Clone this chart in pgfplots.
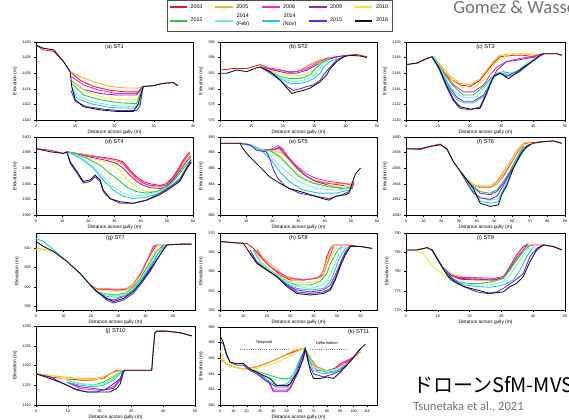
\documentclass[border=0pt]{standalone}
\usepackage{pgfplots}
\pgfplotsset{compat=1.18}
\usepackage{fontspec}
\setmainfont{Liberation Sans}
\newfontfamily\slidefont{Carlito}
\newfontfamily\jpfont{Noto Sans CJK JP}
\definecolor{c03}{RGB}{230,25,35}
\definecolor{c05}{RGB}{255,170,40}
\definecolor{c08}{RGB}{240,40,210}
\definecolor{c09}{RGB}{140,40,190}
\definecolor{c10}{RGB}{235,235,50}
\definecolor{c12}{RGB}{40,200,70}
\definecolor{c14f}{RGB}{120,240,205}
\definecolor{c14n}{RGB}{40,190,240}
\definecolor{c15}{RGB}{90,40,230}
\definecolor{c16}{RGB}{20,20,20}
\pgfplotsset{panel/.style={
  scale only axis, anchor=south west, width=117.75pt, height=58.5pt,
  enlargelimits=false, axis line style={line width=0.4pt},
  tick style={line width=0.3pt, black}, major tick length=1.2pt, tick align=outside,
  xtick pos=left, ytick pos=left,
  tick label style={font=\fontsize{2.8}{3}\selectfont},
  /pgf/number format/assume math mode=true, /pgf/number format/1000 sep={},
  xticklabel style={yshift=0.8pt}, yticklabel style={xshift=0.8pt},
  xlabel={Distance across gully (m)}, ylabel={Elevation (m)},
  label style={font=\fontsize{3.6}{4}\selectfont},
  xlabel style={yshift=5.5pt}, ylabel style={yshift=-3pt},
  title style={at={(0.5,1)}, anchor=north, yshift=-4.5pt, font=\fontsize{4.2}{5}\selectfont},
  every axis plot/.append style={line width=0.65pt, no markers},
}}
\begin{document}
\begin{tikzpicture}
\clip (0,0) rectangle (426.75pt,314.25pt);
\fill[white] (0,0) rectangle (426.75pt,314.25pt);
% legend
\begin{axis}[at={(125.25pt,290.25pt)}, anchor=south west, hide axis, scale only axis,
  width=10pt, height=10pt, xmin=0, xmax=1, ymin=0, ymax=1,
  legend style={at={(0,0)}, anchor=south west, legend columns=5, draw=black!70, line width=0.4pt,
    font=\fontsize{4}{4.2}\selectfont, inner sep=1pt, row sep=-1pt,
    /tikz/every even column/.append style={column sep=7pt}},
  legend cell align=left,
  legend image code/.code={\draw[#1, line width=1.5pt] (0pt,0pt) -- (13pt,0pt);}]
\addlegendimage{c03}\addlegendentry{2003}
\addlegendimage{c05}\addlegendentry{2005}
\addlegendimage{c08}\addlegendentry{2008}
\addlegendimage{c09}\addlegendentry{2009}
\addlegendimage{c10}\addlegendentry{2010}
\addlegendimage{c12}\addlegendentry{2012}
\addlegendimage{c14f}\addlegendentry{\shortstack{2014\\(Feb)}}
\addlegendimage{c14n}\addlegendentry{\shortstack{2014\\(Nov)}}
\addlegendimage{c15}\addlegendentry{2015}
\addlegendimage{c16}\addlegendentry{2016}
\end{axis}
% (a)
\begin{axis}[panel, at={(27pt,224.25pt)}, xmin=0, xmax=40, ymin=1420, ymax=1430,
  xtick={0,10,...,40}, ytick={1420,1422,...,1430}, title={(a) ST1}]
\addplot[c03] coordinates {(0,1429.6)(1.9,1429.0)(4.5,1428.8)(7.0,1427.5)(8.7,1426.2)(11.2,1425.1)(14.6,1424.3)(18.9,1423.8)(23.1,1423.6)(26.0,1423.6)(27.3,1424.3)(29.9,1424.4)(32.4,1424.7)(34.9,1424.8)(36.2,1424.4)};
\addplot[c05] coordinates {(8.7,1426.2)(11.2,1425.6)(14.6,1424.9)(18.9,1424.3)(23.1,1424.1)(26.0,1424.1)(27.3,1424.3)};
\addplot[c08] coordinates {(8.9,1425.6)(12.1,1424.5)(16.3,1423.8)(20.5,1423.4)(25.6,1423.4)(27.3,1424.3)};
\addplot[c09] coordinates {(8.9,1425.1)(12.1,1423.9)(16.3,1423.4)(20.5,1423.2)(25.6,1423.2)(27.3,1424.3)};
\addplot[c10] coordinates {(9.1,1425.1)(12.9,1423.6)(16.3,1423.0)(21.4,1422.6)(25.6,1422.6)(27.3,1424.3)};
\addplot[c12] coordinates {(9.1,1424.7)(12.1,1423.2)(16.3,1422.6)(21.4,1422.2)(25.6,1422.1)(27.3,1424.3)};
\addplot[c14f] coordinates {(9.1,1424.3)(10.4,1423.2)(13.8,1422.4)(18.9,1421.9)(24.8,1421.7)(26.5,1422.2)(27.3,1424.3)};
\addplot[c14n] coordinates {(9.1,1424.1)(10.4,1422.8)(13.8,1422.1)(18.9,1421.6)(24.8,1421.5)(26.5,1422.0)(27.3,1424.3)};
\addplot[c15] coordinates {(8.9,1423.8)(10.0,1422.4)(12.9,1421.7)(17.2,1421.4)(21.4,1421.2)(25.6,1421.2)(26.5,1421.8)(27.3,1424.3)};
\addplot[c16] coordinates {(0,1429.6)(1.9,1429.2)(4.5,1429.0)(7.0,1427.5)(8.7,1426.2)(9.1,1424.3)(10.0,1422.6)(12.1,1421.7)(16.3,1421.3)(20.5,1421.1)(24.8,1421.1)(26.0,1422.0)(27.3,1424.3)(29.9,1424.4)(32.4,1424.7)(34.9,1424.8)(36.2,1424.4)};
\end{axis}
% (b)
\begin{axis}[panel, at={(165pt,224.25pt)}, xmin=0, xmax=50, ymin=576, ymax=586,
  xtick={0,10,...,50}, ytick={576,578,...,586}, title={(b) ST2}]
\addplot[c03] coordinates {(0,582.4)(4.3,582.6)(8.5,582.6)(12.8,583.1)(16.0,582.6)(19.2,582.4)(22.3,582.1)(24.5,582.2)(26.6,582.6)(28.7,583.1)(30.9,583.5)(34.0,583.9)(37.2,584.1)(40.4,584.3)(43.6,584.4)(46.8,584.1)};
\addplot[c05] coordinates {(12.8,583.0)(16.0,582.6)(19.2,582.4)(22.3,582.2)(24.5,582.2)(26.6,582.6)(28.7,583.1)(30.9,583.5)(34.0,583.9)(37.2,584.1)};
\addplot[c08] coordinates {(12.8,582.8)(17.0,582.6)(21.3,582.2)(24.5,582.2)(27.7,582.6)(30.9,583.3)(34.0,583.9)(37.2,584.1)};
\addplot[c09] coordinates {(12.8,582.8)(17.0,582.4)(21.3,582.0)(24.5,582.0)(27.7,582.4)(30.9,583.1)(34.0,583.7)(37.2,584.1)(40.4,584.3)};
\addplot[c10] coordinates {(12.8,582.8)(17.0,582.2)(20.2,581.8)(23.4,581.6)(26.6,581.8)(29.8,582.4)(31.9,583.3)(35.1,583.9)};
\addplot[c12] coordinates {(12.8,582.8)(16.0,582.2)(19.2,581.6)(22.3,581.3)(25.5,581.3)(28.7,581.8)(30.9,582.8)(33.0,583.5)(35.1,583.9)};
\addplot[c14f] coordinates {(12.8,582.8)(17.0,582.0)(20.2,581.3)(23.4,580.9)(26.6,581.1)(29.8,581.6)(31.9,582.6)(33.0,583.3)(35.1,583.7)};
\addplot[c14n] coordinates {(12.8,582.8)(16.0,582.2)(19.2,581.3)(22.3,580.7)(25.5,580.7)(27.7,580.9)(29.8,581.3)(31.9,582.0)(33.0,582.8)(35.1,583.5)(37.2,583.9)};
\addplot[c15] coordinates {(12.8,582.8)(16.0,582.0)(19.2,581.1)(21.3,580.3)(23.4,579.8)(25.5,580.0)(27.7,580.3)(29.8,580.5)(31.9,581.1)(33.0,581.8)(35.1,582.8)(37.2,583.7)(39.4,584.1)};
\addplot[c16] coordinates {(0,582.0)(2.1,582.0)(5.3,582.4)(8.5,582.2)(11.7,582.7)(12.8,582.8)(16.0,582.2)(19.2,581.1)(21.3,580.1)(22.9,579.4)(24.5,579.6)(26.6,579.8)(28.7,580.1)(30.3,580.5)(31.9,580.9)(34.0,581.8)(35.1,582.6)(37.2,583.5)(39.4,584.1)(41.5,584.3)(44.7,584.2)(46.8,584.0)};
\end{axis}
% (c)
\begin{axis}[panel, at={(304.5pt,224.25pt)}, width=119.25pt, xmin=0, xmax=50, ymin=2140, ymax=2150,
  xtick={0,10,...,50}, ytick={2140,2142,...,2150}, title={(c) ST3}]
\addplot[c03] coordinates {(0,2147.1)(3.5,2147.3)(6.6,2147.9)(8.2,2148.1)(10.8,2146.8)(13.9,2145.3)(17.0,2144.5)(20.2,2144.3)(23.3,2145.1)(25.4,2146.2)(27.5,2147.3)(29.6,2148.1)(33.8,2148.3)(36.9,2148.3)(40.1,2148.1)(43.2,2148.5)(47.4,2148.5)(49.0,2148.3)};
\addplot[c05] coordinates {(8.2,2148.1)(10.8,2147.1)(13.9,2145.6)(17.0,2144.7)(20.2,2144.5)(23.3,2145.3)(25.4,2146.4)(27.5,2147.5)(29.6,2148.3)(33.8,2148.5)(36.9,2148.5)(40.1,2148.3)(43.2,2148.5)};
\addplot[c08] coordinates {(8.7,2148.1)(11.8,2146.2)(15.0,2144.5)(18.1,2143.6)(21.2,2143.6)(24.4,2144.5)(26.5,2145.8)(28.6,2146.8)(31.7,2147.5)(35.9,2147.9)(39.0,2148.1)(43.2,2148.5)};
\addplot[c09] coordinates {(8.7,2148.1)(11.3,2146.2)(13.9,2144.1)(16.0,2142.9)(18.1,2142.4)(21.2,2142.4)(24.4,2143.2)(26.5,2144.7)(28.6,2146.4)(31.7,2147.5)(35.4,2147.7)(38.0,2147.9)(41.1,2148.1)(43.2,2148.5)};
\addplot[c10] coordinates {(8.7,2148.1)(11.8,2146.4)(15.0,2144.9)(18.1,2144.1)(21.2,2144.1)(24.4,2145.1)(26.5,2146.4)(28.6,2147.5)(31.7,2148.3)(35.9,2148.5)(41.1,2148.5)};
\addplot[c12] coordinates {(8.7,2148.1)(11.8,2146.0)(15.0,2144.3)(18.1,2143.2)(21.2,2143.2)(24.4,2144.3)(26.5,2145.3)(28.6,2146.0)(30.6,2146.2)(32.7,2146.0)(35.9,2146.4)(39.0,2147.3)(42.2,2148.3)};
\addplot[c14f] coordinates {(8.7,2148.1)(11.8,2145.8)(14.4,2144.0)(16.5,2143.2)(19.1,2142.8)(22.3,2143.0)(24.9,2144.3)(27.5,2145.6)(30.1,2146.0)(32.2,2145.8)(35.4,2146.4)(38.5,2147.5)(42.2,2148.3)};
\addplot[c14n] coordinates {(8.2,2148.1)(11.3,2146.0)(13.9,2143.8)(16.0,2142.6)(18.1,2142.2)(21.2,2142.2)(24.4,2143.0)(26.5,2144.9)(28.6,2145.8)(30.6,2146.0)(32.7,2145.6)(35.9,2146.2)(39.0,2147.3)(42.2,2148.3)};
\addplot[c15] coordinates {(8.2,2148.1)(10.3,2146.6)(12.9,2144.1)(15.0,2142.4)(17.0,2141.5)(20.2,2141.3)(23.3,2141.7)(25.4,2143.6)(27.5,2145.6)(29.6,2146.0)(31.7,2145.6)(34.8,2146.2)(38.0,2147.1)(41.1,2147.9)(43.2,2148.5)};
\addplot[c16] coordinates {(0,2147.1)(3.5,2147.3)(6.6,2147.9)(8.2,2148.1)(10.3,2146.8)(12.9,2144.3)(15.0,2142.6)(17.0,2141.7)(20.2,2141.4)(23.3,2141.5)(25.4,2143.4)(27.5,2145.6)(29.6,2146.0)(32.2,2145.3)(35.4,2146.2)(39.0,2147.3)(42.2,2148.3)(43.2,2148.5)(47.4,2148.5)(49.0,2148.3)};
\end{axis}
% (d)
\begin{axis}[panel, at={(27pt,153pt)}, xmin=0, xmax=60, ymin=2390, ymax=2400,
  xtick={0,10,...,60}, ytick={2390,2392,...,2400}, title={(d) ST4}]
\addplot[c03] coordinates {(0,2398.5)(5.5,2398.3)(10.5,2397.9)(11.8,2398.1)(19.4,2397.7)(27.0,2397.3)(30.8,2397.1)(33.3,2396.8)(35.9,2395.8)(38.4,2394.9)(41.0,2394.3)(43.5,2394.0)(47.3,2393.8)(49.8,2394.0)(52.4,2394.9)(54.9,2396.2)(56.8,2397.3)(58.7,2398.1)};
\addplot[c05] coordinates {(11.8,2398.1)(19.4,2397.7)(27.0,2397.2)(30.8,2396.9)(33.3,2396.4)(35.9,2395.4)(38.4,2394.5)(41.0,2394.0)(43.5,2393.7)(47.3,2393.6)(49.8,2393.8)(52.4,2394.6)(54.9,2395.8)(57.4,2397.0)(59.3,2397.8)};
\addplot[c08] coordinates {(11.8,2398.1)(19.4,2397.6)(27.0,2397.3)(30.8,2397.1)(33.3,2396.6)(35.9,2395.6)(38.4,2394.7)(41.0,2394.1)(43.5,2393.8)(47.3,2393.7)(49.8,2393.8)(52.4,2394.7)(54.9,2396.0)(56.8,2397.1)(58.7,2397.9)};
\addplot[c09] coordinates {(11.8,2398.1)(19.4,2397.5)(27.0,2397.0)(30.8,2396.6)(33.3,2396.0)(35.9,2395.1)(38.4,2394.3)(41.0,2393.8)(43.5,2393.5)(47.3,2393.4)(49.8,2393.6)(52.4,2394.5)(54.9,2395.6)(57.4,2396.8)(59.3,2397.5)};
\addplot[c10] coordinates {(11.8,2398.1)(19.4,2397.4)(27.0,2396.8)(30.8,2396.2)(34.6,2394.7)(38.4,2393.6)(42.2,2393.0)(46.0,2393.0)(49.8,2393.4)(52.4,2394.3)(54.9,2395.4)(57.4,2396.6)(59.3,2397.3)};
\addplot[c12] coordinates {(11.8,2398.1)(19.4,2397.3)(24.5,2396.4)(28.3,2395.3)(30.8,2394.7)(34.6,2393.6)(38.4,2393.0)(42.2,2392.8)(46.0,2393.0)(49.8,2393.6)(52.4,2394.3)(54.9,2395.3)(57.4,2396.4)(59.3,2397.1)};
\addplot[c14f] coordinates {(11.8,2398.1)(16.9,2397.5)(21.9,2396.2)(25.7,2394.9)(29.5,2393.6)(33.3,2392.8)(37.2,2392.4)(42.2,2392.6)(47.3,2393.0)(51.1,2393.6)(54.9,2394.7)(57.4,2396.0)(59.3,2396.8)};
\addplot[c14n] coordinates {(11.8,2398.1)(16.9,2397.3)(21.9,2396.0)(25.7,2394.5)(29.5,2393.2)(33.3,2392.4)(37.2,2392.1)(42.2,2392.3)(47.3,2392.8)(51.1,2393.5)(54.9,2394.6)(57.4,2395.9)(59.3,2396.8)};
\addplot[c15] coordinates {(11.8,2398.1)(13.1,2396.6)(15.6,2395.4)(18.1,2394.1)(20.7,2394.3)(22.6,2394.9)(24.5,2394.3)(25.7,2393.0)(28.3,2392.1)(32.1,2391.5)(37.2,2391.5)(42.2,2391.9)(47.3,2392.8)(51.1,2393.6)(54.9,2394.5)(57.4,2396.0)(59.3,2397.1)};
\addplot[c16] coordinates {(0,2398.5)(5.5,2398.1)(10.5,2397.9)(11.8,2398.1)(13.1,2396.8)(15.6,2395.6)(18.1,2394.3)(20.7,2394.5)(22.6,2395.1)(24.5,2394.5)(25.7,2393.2)(28.3,2392.1)(32.1,2391.7)(37.2,2391.5)(42.2,2391.9)(47.3,2392.6)(51.1,2393.4)(54.9,2394.3)(57.4,2395.8)(59.3,2396.8)};
\end{axis}
% (e)
\begin{axis}[panel, at={(165pt,153pt)}, xmin=0, xmax=60, ymin=880, ymax=890,
  xtick={0,10,...,60}, ytick={880,882,...,890}, title={(e) ST5}]
\addplot[c03] coordinates {(0,889.2)(7.6,889.2)(11.4,889.0)(16.4,888.3)(20.2,888.3)(22.7,888.7)(24.7,888.1)(27.8,886.6)(31.6,885.3)(35.4,884.5)(40.4,884.1)(46.7,883.8)(50.5,883.4)(51.2,884.1)};
\addplot[c05] coordinates {(7.6,889.2)(11.4,889.0)(16.4,888.3)(20.2,888.2)(23.4,888.0)(26.5,887.0)(30.3,885.6)(35.4,884.5)(41.7,884.1)(47.3,884.0)(50.5,884.1)};
\addplot[c08] coordinates {(7.6,889.2)(11.4,889.0)(16.4,888.3)(20.2,888.5)(22.1,888.9)(24.0,888.5)(25.3,887.7)(29.0,886.4)(32.8,885.3)(36.6,884.7)(41.7,884.3)(46.7,884.1)(50.5,883.8)(51.2,884.3)};
\addplot[c09] coordinates {(7.6,889.2)(11.4,889.0)(16.4,888.3)(20.2,888.4)(22.7,888.5)(25.3,887.6)(29.0,886.2)(32.8,885.0)(36.6,884.3)(41.7,883.8)(46.7,883.4)(49.9,883.4)(50.5,883.8)};
\addplot[c10] coordinates {(7.6,889.2)(11.4,889.0)(16.4,888.3)(20.2,888.3)(24.0,887.3)(27.8,885.8)(32.8,884.5)(39.2,883.8)(46.7,883.6)(50.5,883.8)};
\addplot[c12] coordinates {(7.6,889.2)(11.4,889.0)(16.4,888.3)(19.5,888.2)(22.7,887.5)(26.5,886.2)(30.3,884.9)(35.4,884.1)(41.7,883.6)(48.0,883.4)(49.9,883.6)(50.5,883.8)};
\addplot[c14f] coordinates {(7.6,889.2)(11.4,889.0)(17.7,888.1)(21.5,886.8)(25.3,885.6)(30.3,884.3)(36.6,883.4)(44.2,883.2)(49.3,883.4)(50.5,883.8)};
\addplot[c14n] coordinates {(7.6,889.2)(11.4,888.9)(16.4,888.1)(20.2,886.8)(22.7,885.6)(26.5,884.3)(31.6,883.2)(37.9,882.8)(44.2,882.8)(49.3,883.2)(50.5,883.6)};
\addplot[c15] coordinates {(7.6,889.2)(11.4,889.0)(13.9,888.3)(17.7,888.1)(18.9,887.3)(20.2,886.0)(22.1,884.7)(25.3,883.6)(30.3,882.8)(36.6,882.4)(41.7,882.1)(46.7,882.6)(49.3,883.0)(50.5,883.6)};
\addplot[c16] coordinates {(0,889.2)(7.6,889.2)(8.8,888.5)(10.7,887.7)(13.3,886.8)(15.8,886.0)(18.9,884.9)(22.7,884.1)(26.5,883.4)(32.8,882.8)(39.2,882.1)(41.7,881.9)(44.2,882.4)(48.0,882.6)(49.3,882.8)(50.5,884.1)(51.8,885.3)(53.7,886.0)};
\end{axis}
% (f)
\begin{axis}[panel, at={(304.5pt,153pt)}, width=119.25pt, xmin=0, xmax=90, ymin=1650, ymax=1660,
  xtick={0,10,...,90}, ytick={1650,1652,...,1660}, title={(f) ST6}]
\addplot[c03] coordinates {(0,1658.5)(8.1,1658.4)(13.7,1658.8)(19.4,1659.1)(23.2,1658.4)(26.9,1656.8)(30.7,1655.6)(34.5,1654.5)(38.2,1653.8)(42.0,1653.6)(47.6,1653.6)(51.4,1654.2)(55.2,1655.3)(58.9,1656.6)(62.7,1658.1)(66.5,1659.1)(72.1,1659.3)(77.8,1659.4)(83.4,1659.5)(88.1,1659.2)};
\addplot[c05] coordinates {(30.7,1655.6)(34.5,1654.6)(38.2,1653.9)(42.0,1653.7)(47.6,1653.7)(51.4,1654.3)(55.2,1655.6)(58.9,1656.8)(62.7,1658.3)(66.5,1659.2)(70.2,1659.4)};
\addplot[c08] coordinates {(30.7,1655.6)(34.5,1654.5)(38.2,1653.8)(42.0,1653.5)(47.6,1653.5)(51.4,1654.0)(55.2,1655.0)(58.9,1656.4)(62.7,1657.9)(66.5,1659.0)};
\addplot[c09] coordinates {(30.7,1655.6)(34.5,1654.5)(38.2,1653.6)(42.0,1652.8)(47.6,1652.6)(51.4,1653.0)(55.2,1654.1)(58.9,1655.6)(62.7,1657.3)(66.5,1658.6)(70.2,1659.1)};
\addplot[c10] coordinates {(30.7,1655.6)(34.5,1654.5)(38.2,1653.8)(42.0,1653.6)(47.6,1653.6)(51.4,1654.1)(55.2,1655.3)(58.9,1656.6)(62.7,1658.1)(66.5,1659.0)(70.2,1659.2)};
\addplot[c12] coordinates {(30.7,1655.6)(34.5,1654.5)(38.2,1653.6)(42.0,1653.0)(47.6,1652.8)(51.4,1653.2)(55.2,1654.3)(58.9,1655.6)(62.7,1657.3)(66.5,1658.8)};
\addplot[c14f] coordinates {(30.7,1655.6)(34.5,1654.3)(38.2,1653.2)(42.0,1652.2)(47.6,1651.9)(52.3,1652.1)(55.2,1653.2)(58.9,1655.1)(62.7,1657.0)(66.5,1658.5)(70.2,1659.0)};
\addplot[c14n] coordinates {(30.7,1655.6)(34.5,1654.3)(38.2,1653.0)(42.0,1651.8)(47.6,1651.5)(52.3,1651.7)(54.2,1652.8)(57.1,1654.1)(60.8,1656.0)(64.6,1657.9)(68.4,1658.9)};
\addplot[c15] coordinates {(30.7,1655.6)(34.5,1654.1)(38.2,1652.8)(42.0,1652.2)(47.6,1652.0)(51.4,1652.4)(55.2,1653.8)(58.9,1655.4)(62.7,1656.8)(66.5,1658.3)(70.2,1659.0)};
\addplot[c16] coordinates {(0,1658.5)(8.1,1658.5)(13.7,1658.8)(19.4,1659.0)(23.2,1658.5)(26.9,1656.8)(30.7,1655.6)(34.5,1654.5)(38.2,1653.4)(40.1,1652.4)(42.0,1651.5)(47.6,1651.1)(52.3,1651.3)(54.2,1652.6)(57.1,1653.8)(60.8,1656.0)(64.6,1657.7)(68.4,1658.8)(72.1,1659.2)(77.8,1659.4)(83.4,1659.5)(88.1,1659.2)};
\end{axis}
% (g)
\begin{axis}[panel, at={(27pt,81.75pt)}, width=119.25pt, height=57.75pt, xmin=0, xmax=58, ymin=594, ymax=614,
  xtick={0,10,...,50}, ytick={595,600,...,610}, title={(g) ST7}]
\addplot[c03] coordinates {(19.8,600.5)(22.2,599.4)(25.8,599.4)(29.5,599.2)(33.1,599.2)(35.5,600.3)(38.0,603.1)(40.4,606.6)(42.8,610.5)(44.0,610.9)(47.7,610.9)(52.5,611.1)(56.8,611.1)};
\addplot[c05] coordinates {(0,610.0)(2.8,609.8)(6.4,609.2)(11.3,606.6)(16.1,603.5)(19.8,600.5)(22.2,599.6)(25.8,599.6)(29.5,599.4)(33.1,599.6)(35.5,600.9)(38.0,603.5)(40.4,606.6)(42.8,610.0)(44.0,610.9)};
\addplot[c08] coordinates {(19.8,600.5)(22.2,599.4)(25.8,599.4)(29.5,599.2)(33.1,599.4)(35.5,600.5)(38.0,603.1)(40.4,606.6)(42.8,609.6)(44.0,610.9)};
\addplot[c09] coordinates {(19.8,600.5)(22.2,598.8)(25.8,597.0)(28.3,596.6)(31.9,597.5)(35.5,599.2)(38.0,601.4)(41.6,604.8)(44.6,608.7)(46.5,610.9)};
\addplot[c10] coordinates {(0,609.6)(2.8,609.6)(6.4,609.2)(11.3,606.6)(16.1,603.5)(19.8,600.5)(22.2,599.2)(25.8,599.0)(29.5,598.8)(33.1,599.2)(35.5,600.5)(38.0,602.7)(41.0,606.1)(43.4,609.2)(45.2,610.9)};
\addplot[c12] coordinates {(19.8,600.5)(22.2,598.8)(25.8,598.1)(29.5,597.9)(33.1,598.5)(35.5,599.9)(38.0,602.2)(41.0,605.7)(44.0,609.2)(46.5,610.9)};
\addplot[c14f] coordinates {(19.8,600.5)(22.2,598.8)(25.8,597.9)(29.5,597.7)(33.1,598.3)(35.5,599.6)(38.0,601.8)(41.6,605.7)(45.2,609.6)(47.7,610.9)};
\addplot[c14n] coordinates {(0,612.6)(2.8,611.8)(6.4,609.6)(11.3,606.6)(16.1,603.5)(19.8,600.5)(22.2,598.8)(25.8,597.5)(29.5,597.3)(33.1,597.9)(35.5,599.2)(38.0,601.4)(41.6,605.3)(45.2,609.2)(47.7,610.9)};
\addplot[c15] coordinates {(19.8,600.5)(22.2,598.8)(25.8,596.6)(28.3,595.8)(31.9,596.6)(35.5,598.3)(38.0,600.5)(41.6,604.0)(45.2,608.3)(47.7,610.9)};
\addplot[c16] coordinates {(0,611.8)(2.8,610.5)(6.4,609.2)(11.3,606.6)(16.1,603.5)(19.8,600.5)(22.2,598.8)(25.8,597.0)(28.3,596.2)(31.9,597.0)(35.5,598.8)(38.0,600.9)(41.6,604.4)(45.2,608.3)(47.7,610.9)(52.5,611.1)(56.8,611.1)};
\end{axis}
% (h)
\begin{axis}[panel, at={(165pt,81.75pt)}, height=57.75pt, xmin=0, xmax=67, ymin=550, ymax=570,
  xtick={0,10,...,60}, ytick={550,555,...,570}, title={(h) ST8}]
\addplot[c03] coordinates {(0,567.8)(5.7,567.5)(11.4,567.3)(14.3,566.0)(17.1,563.9)(21.4,561.3)(25.7,559.1)(29.9,557.8)(35.7,557.8)(39.9,558.2)(42.8,558.7)(44.2,560.4)(45.6,563.9)(47.1,566.0)(48.5,566.9)(54.2,566.9)(59.9,566.5)(64.9,566.0)};
\addplot[c05] coordinates {(15.7,566.0)(18.5,563.5)(22.8,561.3)(27.1,559.1)(31.4,558.2)(37.1,558.0)(41.4,558.4)(43.5,559.5)(45.6,563.0)(47.1,565.6)(48.5,566.9)};
\addplot[c08] coordinates {(15.7,565.6)(18.5,563.0)(21.4,561.3)(25.7,559.5)(29.9,558.2)(35.7,557.8)(41.4,558.2)(44.2,559.1)(45.6,561.7)(47.1,564.3)(48.5,566.5)};
\addplot[c09] coordinates {(12.8,565.6)(15.7,562.5)(20.0,560.4)(24.2,558.7)(28.5,556.5)(32.8,555.2)(38.5,554.7)(44.2,555.2)(47.1,556.5)(49.2,559.1)(51.3,562.1)(53.5,565.2)(55.6,566.5)};
\addplot[c10] coordinates {(14.3,565.6)(17.1,563.0)(21.4,560.4)(25.7,558.7)(29.9,557.4)(35.7,557.0)(41.4,557.4)(44.2,558.7)(45.6,561.3)(47.8,564.3)(49.9,566.5)};
\addplot[c12] coordinates {(14.3,565.6)(17.1,562.5)(20.0,560.8)(24.2,559.1)(28.5,557.4)(32.8,556.5)(38.5,556.5)(42.8,557.4)(45.6,559.5)(47.1,562.1)(49.9,565.2)(52.0,566.5)};
\addplot[c14f] coordinates {(14.3,565.2)(17.1,562.5)(20.0,560.8)(24.2,559.1)(28.5,557.4)(32.8,556.1)(38.5,555.6)(44.2,556.5)(46.3,558.2)(48.5,561.3)(50.6,564.3)(52.0,566.0)(53.5,566.5)};
\addplot[c14n] coordinates {(12.8,564.7)(15.7,562.5)(20.0,560.4)(24.2,558.7)(28.5,556.9)(32.8,555.6)(38.5,555.2)(44.2,555.6)(47.1,557.4)(48.5,559.5)(51.3,563.9)(53.5,566.0)(55.6,566.5)};
\addplot[c15] coordinates {(12.8,564.7)(15.7,562.5)(20.0,560.4)(24.2,558.7)(28.5,556.5)(32.8,554.7)(38.5,554.3)(44.2,554.7)(47.1,555.6)(49.2,558.2)(51.3,561.7)(53.5,564.7)(55.6,566.5)};
\addplot[c16] coordinates {(0,567.8)(5.7,567.5)(10.0,567.3)(12.8,564.7)(15.7,562.1)(20.0,560.4)(24.2,558.7)(28.5,556.1)(32.8,554.3)(38.5,553.9)(44.2,554.3)(47.1,555.2)(49.2,557.8)(51.3,561.3)(53.5,564.3)(55.6,566.5)(59.9,566.5)(64.9,566.0)};
\end{axis}
% (i)
\begin{axis}[panel, at={(304.5pt,81.75pt)}, width=119.25pt, height=57.75pt, xmin=0, xmax=50, ymin=770, ymax=790,
  xtick={0,10,...,50}, ytick={770,775,...,790}, title={(i) ST9}]
\addplot[c03] coordinates {(0,785.6)(3.5,785.6)(6.6,786.2)(8.2,785.6)(9.7,783.5)(11.3,781.3)(13.9,779.1)(17.0,778.0)(22.3,777.8)(27.5,777.8)(30.6,778.2)(32.7,781.3)(34.8,784.3)(36.9,786.5)(40.1,786.9)(43.2,786.9)(46.3,786.5)(49.0,785.6)};
\addplot[c05] coordinates {(8.2,785.6)(9.7,783.5)(11.3,781.3)(13.9,779.5)(17.0,778.7)(22.3,778.2)(27.5,778.0)(30.6,778.5)(32.7,781.0)(34.8,784.0)(36.9,786.3)(39.0,786.9)};
\addplot[c08] coordinates {(8.2,785.6)(9.7,783.5)(11.3,781.3)(13.9,779.1)(17.0,778.4)(22.3,778.4)(27.5,778.2)(30.6,778.7)(32.7,781.3)(34.8,784.3)(36.9,786.5)(38.5,787.3)};
\addplot[c09] coordinates {(8.2,785.6)(9.7,783.5)(11.3,781.3)(13.9,779.1)(17.0,778.2)(22.3,778.0)(27.5,777.8)(30.6,778.4)(32.7,780.8)(34.8,783.5)(36.9,785.6)(38.0,786.9)};
\addplot[c10] coordinates {(3.5,785.2)(5.5,784.7)(7.6,782.1)(9.7,780.4)(12.9,778.7)(15.0,777.4)(19.1,776.9)(23.3,776.9)(27.5,777.4)(30.6,778.2)(32.7,780.4)(34.8,783.0)(36.9,785.2)(39.0,786.9)};
\addplot[c12] coordinates {(8.2,785.6)(9.7,783.5)(11.3,781.3)(13.9,777.8)(19.1,776.9)(23.3,776.9)(27.5,777.4)(30.6,778.2)(32.7,780.4)(34.8,783.0)(36.9,785.2)(39.0,786.9)};
\addplot[c14f] coordinates {(8.2,785.6)(9.7,783.5)(11.3,781.3)(13.9,778.3)(18.1,776.9)(22.3,776.5)(26.5,776.5)(30.6,777.4)(32.7,779.1)(34.8,781.7)(36.9,784.3)(39.0,786.5)};
\addplot[c14n] coordinates {(8.2,785.6)(9.7,783.5)(11.3,781.3)(13.9,778.7)(18.1,776.5)(22.3,776.1)(26.5,775.9)(30.6,776.5)(33.8,777.8)(35.9,780.4)(38.0,783.9)(40.1,786.5)};
\addplot[c15] coordinates {(8.2,785.6)(9.7,783.5)(11.3,781.3)(12.9,779.5)(15.0,777.8)(18.1,776.1)(22.3,774.7)(25.4,774.3)(28.6,774.7)(30.6,775.6)(33.8,777.4)(36.9,779.5)(39.0,783.9)(41.1,786.0)(43.2,786.9)};
\addplot[c16] coordinates {(0,785.6)(3.5,785.6)(6.6,786.2)(8.2,785.6)(9.7,783.5)(11.3,781.3)(12.9,779.1)(15.0,777.4)(18.1,776.1)(22.3,775.2)(26.5,774.3)(30.6,774.7)(32.7,776.1)(34.8,776.9)(36.9,778.7)(39.0,782.6)(41.1,785.6)(43.2,786.9)(46.3,786.5)(49.0,785.6)};
\end{axis}
% (j)
\begin{axis}[panel, at={(27pt,10.5pt)}, width=119.25pt, height=59.25pt, xmin=0, xmax=50, ymin=1210, ymax=1230,
  xtick={0,10,...,50}, ytick={1210,1215,...,1230}, title={(j) ST10}]
\addplot[c03] coordinates {(0,1217.9)(4.5,1217.1)(8.7,1216.7)(13.9,1216.3)(18.1,1216.3)(21.2,1216.7)(23.3,1217.9)(25.4,1218.8)(27.5,1218.8)(30.6,1218.8)(36.4,1218.8)(36.9,1224.2)(37.4,1228.3)(38.0,1228.7)(41.1,1228.7)(45.3,1228.3)(49.0,1227.5)};
\addplot[c05] coordinates {(0,1217.9)(4.5,1217.5)(8.7,1217.1)(13.9,1216.7)(18.1,1216.7)(21.2,1217.1)(24.4,1218.3)(27.5,1218.8)};
\addplot[c08] coordinates {(9.7,1215.8)(13.9,1214.2)(18.1,1213.8)(21.2,1213.8)(24.4,1214.6)(26.5,1216.7)(27.5,1218.8)};
\addplot[c09] coordinates {(9.7,1215.8)(13.9,1214.6)(18.1,1214.2)(21.2,1213.8)(24.4,1214.2)(26.5,1216.3)(27.5,1218.8)};
\addplot[c10] coordinates {(0,1217.9)(4.5,1217.5)(8.7,1216.7)(12.9,1216.7)(18.1,1216.3)(22.3,1216.7)(25.4,1217.9)(27.5,1218.8)};
\addplot[c12] coordinates {(9.7,1216.3)(13.9,1215.4)(18.1,1215.0)(21.2,1215.8)(24.4,1217.1)(26.5,1218.3)(27.5,1218.8)};
\addplot[c14f] coordinates {(9.7,1216.3)(13.9,1215.4)(18.1,1215.0)(21.2,1215.4)(24.4,1216.7)(26.5,1218.3)(27.5,1218.8)};
\addplot[c14n] coordinates {(9.7,1215.8)(13.9,1215.0)(18.1,1214.6)(21.2,1215.0)(24.4,1216.3)(26.5,1217.9)(27.5,1218.8)};
\addplot[c15] coordinates {(0,1217.9)(4.5,1217.1)(8.7,1215.4)(11.8,1214.2)(16.0,1213.3)(19.1,1213.3)(22.3,1214.2)(24.4,1215.4)(26.5,1216.7)(27.5,1218.8)};
\addplot[c16] coordinates {(0,1217.9)(4.5,1216.7)(8.7,1215.4)(12.9,1213.8)(16.0,1213.3)(20.2,1213.3)(23.3,1213.3)(25.4,1214.2)(26.5,1215.4)(27.5,1218.3)(28.0,1218.8)(30.6,1218.8)(36.4,1218.8)(36.9,1224.2)(37.4,1228.3)(38.0,1228.7)(41.1,1228.7)(45.3,1228.3)(49.0,1227.5)};
\end{axis}
% (k)
\begin{axis}[panel, at={(165pt,10.5pt)}, height=58.5pt, xmin=0, xmax=117.5, ymin=940, ymax=950,
  xtick={0,10,...,110}, ytick={940,942,...,950}, title={(k) ST11},
  title style={at={(0.98,1)}, anchor=north east}]
\addplot[gray, densely dotted, line width=0.4pt] coordinates {(15,947.2)(52.5,947.2)};
\addplot[gray, densely dotted, line width=0.4pt] coordinates {(67.5,947.2)(95,947.2)};
\addplot[c03] coordinates {(0,945.9)(5,945.3)(10,944.9)(17.5,944.6)(27.5,944.9)(37.5,945.5)(47.5,946.3)(55,946.8)(61.25,947.2)(63.75,947.2)(67.5,945.9)(72.5,944.9)(80,944.4)(85,944.6)(90,945.3)(97.5,945.9)(105,946.8)};
\addplot[c05] coordinates {(0,945.9)(5,945.3)(10,944.9)(17.5,944.6)(27.5,944.9)(37.5,945.5)(47.5,946.3)(55,947.0)(61.25,947.2)(63.75,947.2)(67.5,946.1)(72.5,944.9)(80,944.4)(85,944.6)(90,945.1)(97.5,945.7)(105,946.8)};
\addplot[c08] coordinates {(22.5,944.6)(27.5,944.2)(32.5,943.6)(36.25,943.0)(38.75,942.3)(40,941.9)(50,941.9)(52.5,942.3)(57.5,943.8)(62.5,945.9)(63.75,947.0)(67.5,945.5)(72.5,944.4)(80,944.4)(87.5,944.8)(92.5,945.3)(100,946.1)};
\addplot[c09] coordinates {(27.5,944.2)(32.5,943.6)(36.25,943.0)(40,941.7)(47.5,941.7)(50,941.7)(52.5,942.1)(55,943.0)(60,944.9)};
\addplot[c10] coordinates {(0,947.0)(3.75,945.5)(10,944.9)(17.5,944.6)(25,944.6)(32.5,944.9)(40,945.3)(50,946.1)(57.5,946.8)(62.5,947.2)(65,946.5)(67.5,945.3)(72.5,944.6)(80,944.2)};
\addplot[c12] coordinates {(22.5,944.6)(30,944.2)(37.5,943.8)(45,943.4)(52.5,943.4)(57.5,944.6)(62.5,946.5)(63.75,947.2)(67.5,945.9)(72.5,944.6)(80,944.2)(87.5,944.4)(92.5,944.9)};
\addplot[c14f] coordinates {(27.5,944.2)(35,943.6)(42.5,943.2)(50,943.2)(55,944.0)(60,946.1)(63.75,947.2)(66.25,946.1)(72.5,944.6)(80,944.4)(87.5,944.6)(92.5,945.1)};
\addplot[c14n] coordinates {(27.5,944.0)(35,943.2)(42.5,942.5)(50,942.7)(55,943.6)(58.75,945.3)(62.5,946.8)(63.75,947.4)(66.25,945.9)(70,944.4)(77.5,944.0)(85,944.2)(90,944.6)};
\addplot[c15] coordinates {(0,948.2)(2.5,947.8)(5,946.3)(7.5,945.5)(12.5,945.1)(17.5,945.1)(22.5,944.4)(27.5,944.0)(35,943.0)(42.5,942.3)(50,942.3)(52.5,942.7)(57.5,944.2)(61.25,946.1)(63.75,947.2)(66.25,945.3)(70,944.0)(77.5,943.6)(85,944.0)(90,944.4)(95,945.3)(100,946.1)(105,947.2)};
\addplot[c16] coordinates {(0,948.9)(2.5,948.0)(5,946.5)(7.5,945.5)(12.5,945.3)(17.5,945.3)(22.5,944.6)(27.5,944.2)(32.5,943.8)(37.5,943.4)(42.5,942.5)(50,942.5)(52.5,942.7)(55,943.4)(58.75,944.4)(62.5,946.1)(63.75,947.2)(65,946.5)(67.5,944.4)(70,943.4)(75,943.4)(80,943.6)(85,943.4)(90,944.2)(95,945.1)(100,946.1)(105,947.2)(108.75,947.8)};
\node[font=\fontsize{3}{3}\selectfont] at (axis cs:33,948.0) {Temporal};
\node[font=\fontsize{3}{3}\selectfont] at (axis cs:80,948.0) {Deformation};
\end{axis}
% slide texts
\node[anchor=base west, text=black!55, font=\slidefont\fontsize{14}{16}\selectfont, inner sep=0pt] at (339.75pt,304.5pt) {Gomez \& Wasson};
\node[anchor=base west, font=\jpfont\fontsize{15}{17}\selectfont, inner sep=0pt] at (309.75pt,20.25pt) {ドローンSfM-MVS};
\node[anchor=base west, text=black!55, font=\slidefont\fontsize{9.4}{11}\selectfont, inner sep=0pt] at (309.75pt,6.75pt) {Tsunetaka et al., 2021};
\end{tikzpicture}
\end{document}
